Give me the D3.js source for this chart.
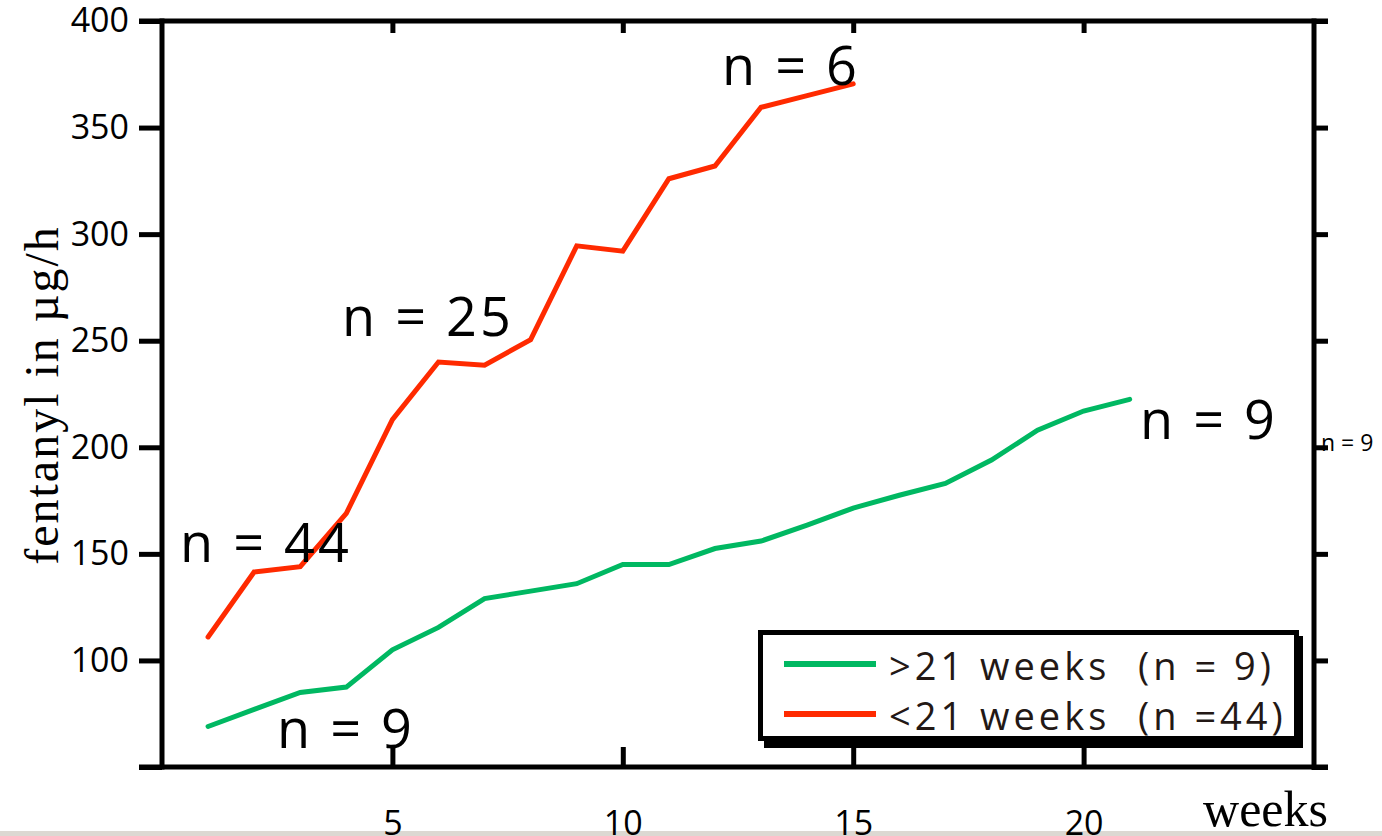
<!DOCTYPE html>
<html>
<head>
<meta charset="utf-8">
<script src="https://cdn.jsdelivr.net/npm/d3@7"></script>
<style>
  body { margin: 0; background: #fff; }
  svg { display: block; }
</style>
</head>
<body>
<div id="chart"></div>
<script>
var width = 1382;
var height = 836;

// data
var weeks = [1,2,3,4,5,6,7,8,9,10,11,12,13,14,15,16,17,18,19,20,21];
var over21 = [69,77,85,87.5,105,115.5,129,132.5,136,145,145,152.5,156,163.5,171.5,177.5,183,194,208,217,222.5];
var under21 = [111,141.5,144,169,213,240,238.5,250.5,294.5,292,326,332,359.5,365,370.5];
var yTicks = [50,100,150,200,250,300,350,400];
var xTicks = [5,10,15,20];
var legendNames = [">21 weeks  (n = 9)", "<21 weeks  (n =44)"];
var colors = ["#00b862", "#ff2a00"];

// n = labels: [value the baseline sits at, text]
var notes = [
  [146, "n = 44"],
  [59, "n = 9"],
  [252, "n = 25"],
  [370, "n = 6"],
  [204, "n = 9"]
];
var noteX = [180, 277, 342, 722, 1140];

var mLeft = 162, mRight = 1314, mTop = 21, mBottom = 767;

var x = d3.scaleLinear().domain([0, 25]).range([mLeft, mRight]);
var y = d3.scaleLinear().domain([50, 400]).range([mBottom, mTop]);

var svg = d3.select("#chart")
    .append("svg")
    .attr("width", width)
    .attr("height", height);

// faint strip at the very bottom
svg.append("rect")
    .attr("x", 0).attr("y", 831)
    .attr("width", width).attr("height", 5)
    .attr("fill", "#dcd8d2");

var tickFont = "'Open Sans', sans-serif";

// left axis
var yAxisL = svg.append("g")
    .attr("transform", "translate(" + mLeft + ",0)")
    .call(d3.axisLeft(y).tickValues(yTicks).tickSize(23).tickPadding(10)
      .tickFormat(function(d){ return d == 50 ? "" : d; }));
// right axis
var yAxisR = svg.append("g")
    .attr("transform", "translate(" + mRight + ",0)")
    .call(d3.axisRight(y).tickValues(yTicks).tickSize(14).tickFormat(""));
// bottom axis
var xAxisB = svg.append("g")
    .attr("transform", "translate(0," + mBottom + ")")
    .call(d3.axisBottom(x).tickValues(xTicks).tickSize(-20).tickPadding(44));
// top axis
var xAxisT = svg.append("g")
    .attr("transform", "translate(0," + mTop + ")")
    .call(d3.axisTop(x).tickValues(xTicks).tickSize(-12).tickFormat(""));

[yAxisL, yAxisR, xAxisB, xAxisT].forEach(function(a){
  a.select(".domain").remove();
  a.selectAll(".tick line").attr("stroke", "#000").attr("stroke-width", 5);
  a.selectAll(".tick text")
    .attr("fill", "#000")
    .style("font-family", tickFont)
    .style("font-size", "34px");
});

// frame lines
var frame = svg.append("g").attr("stroke", "#000").attr("stroke-width", 5);
frame.append("line").attr("x1", mLeft - 23).attr("x2", mRight + 14).attr("y1", mTop).attr("y2", mTop);
frame.append("line").attr("x1", mLeft - 23).attr("x2", mRight + 14).attr("y1", mBottom).attr("y2", mBottom);
frame.append("line").attr("x1", mLeft).attr("x2", mLeft).attr("y1", mTop - 2.5).attr("y2", mBottom + 2.5);
frame.append("line").attr("x1", mRight).attr("x2", mRight).attr("y1", mTop - 2.5).attr("y2", mBottom + 3);

// lines
var line = d3.line()
    .x(function(d){ return x(d[0]); })
    .y(function(d){ return y(d[1]); });

svg.append("path")
    .datum(weeks.map(function(w, i){ return [w, over21[i]]; }))
    .attr("fill", "none")
    .attr("stroke", colors[0])
    .attr("stroke-width", 5)
    .attr("stroke-linecap", "round")
    .attr("d", line);

svg.append("path")
    .datum(under21.map(function(v, i){ return [weeks[i], v]; }))
    .attr("fill", "none")
    .attr("stroke", colors[1])
    .attr("stroke-width", 5)
    .attr("stroke-linecap", "round")
    .attr("d", line);

// n = annotations
svg.selectAll(".note")
    .data(notes)
    .enter()
    .append("text")
    .attr("class", "note")
    .attr("x", function(d, i){ return noteX[i]; })
    .attr("y", function(d){ return y(d[0]); })
    .attr("fill", "#000")
    .style("font-family", tickFont)
    .style("font-size", "54px")
    .style("letter-spacing", "3px")
    .text(function(d){ return d[1]; });

svg.append("text")
    .attr("x", 1321).attr("y", y(200) + 4)
    .attr("fill", "#000")
    .style("font-family", tickFont)
    .style("font-size", "23px")
    .text("n = 9");

// axis titles
svg.append("text")
    .attr("transform", "translate(58," + 395 + ") rotate(-90)")
    .attr("text-anchor", "middle")
    .attr("fill", "#000")
    .style("font-family", "'Liberation Serif', serif")
    .style("font-size", "48px")
    .style("letter-spacing", "2px")
    .text("fentanyl in \u00b5g/h");

svg.append("text")
    .attr("x", 1328).attr("y", 826)
    .attr("text-anchor", "end")
    .attr("fill", "#000")
    .style("font-family", "'Liberation Serif', serif")
    .style("font-size", "50px")
    .text("weeks");

// legend
var lg = svg.append("g");
lg.append("rect")
    .attr("x", 764).attr("y", 636)
    .attr("width", 539).attr("height", 112)
    .attr("fill", "#000");
lg.append("rect")
    .attr("x", 760.5).attr("y", 632.5)
    .attr("width", 536).attr("height", 106)
    .attr("fill", "#fff")
    .attr("stroke", "#000")
    .attr("stroke-width", 5);

legendNames.forEach(function(name, i){
  var ly = 664 + i * 50;
  lg.append("line")
    .attr("x1", 784).attr("x2", 876)
    .attr("y1", ly).attr("y2", ly)
    .attr("stroke", colors[i])
    .attr("stroke-width", 6);
  lg.append("text")
    .attr("x", 889).attr("y", ly + 16)
    .attr("fill", "#231815")
    .style("font-family", tickFont)
    .style("font-size", "38px")
    .style("letter-spacing", "4px")
    .style("white-space", "pre")
    .text(name);
});
</script>
</body>
</html>
